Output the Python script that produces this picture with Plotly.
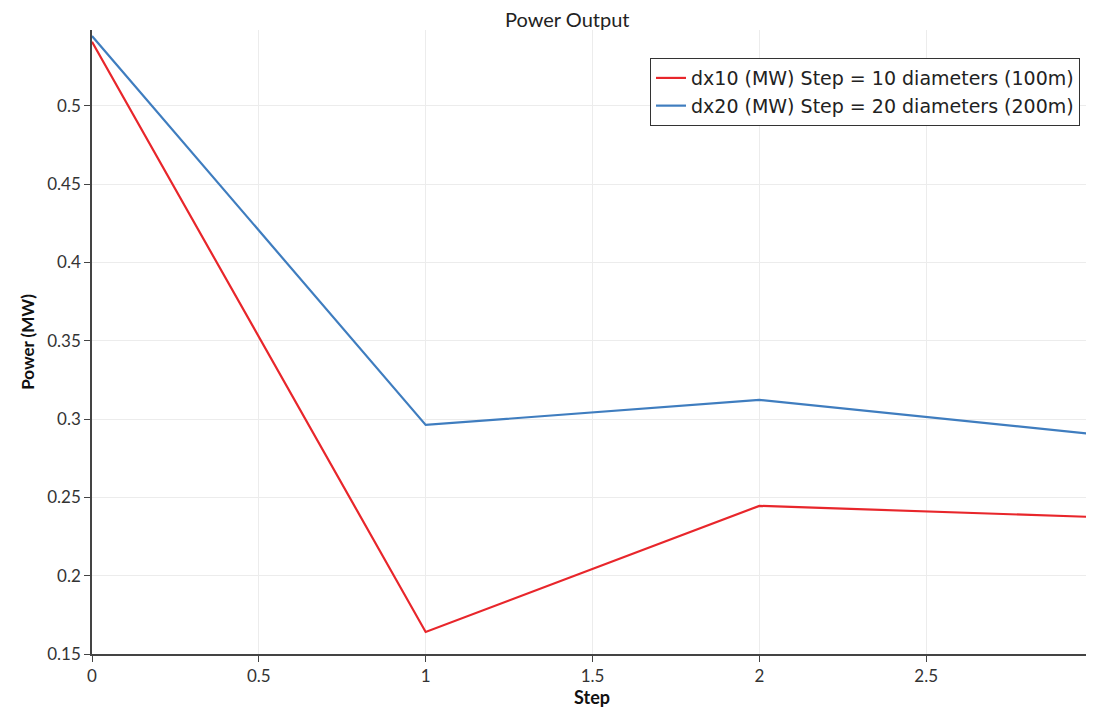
import plotly.graph_objects as go

steps = [0, 1, 2, 3]
dx10 = [0.541, 0.1641, 0.2446, 0.2375]
dx20 = [0.5447, 0.2963, 0.3123, 0.2905]
names = ["dx10 (MW) Step = 10 diameters (100m)", "dx20 (MW) Step = 20 diameters (200m)"]
colors = ["#e8262b", "#3f7dbf"]

fig = go.Figure()
fig.add_trace(go.Scatter(x=steps, y=dx10, mode="lines", name=names[0],
                         line=dict(color=colors[0], width=2.2)))
fig.add_trace(go.Scatter(x=steps, y=dx20, mode="lines", name=names[1],
                         line=dict(color=colors[1], width=2.2)))

font_family = "Lato, DejaVu Sans, sans-serif"
fig.update_layout(
    width=1086, height=703,
    margin=dict(l=84, r=2, t=22, b=57),
    paper_bgcolor="white", plot_bgcolor="white",
    title=dict(text="Power Output", x=0.515, xanchor="center", y=0.993, yanchor="top",
               font=dict(family=font_family, size=20, color="#222")),
    font=dict(family=font_family, size=17, color="#333"),
    showlegend=True,
    legend=dict(x=0.558, y=0.955, xanchor="left", yanchor="top",
                bordercolor="#333", borderwidth=1, bgcolor="white",
                font=dict(family="DejaVu Sans, sans-serif", size=19, color="#222"),
                tracegroupgap=0, itemwidth=30),
    xaxis=dict(range=[0, 2.997], tickvals=[0, 0.5, 1, 1.5, 2, 2.5],
               ticktext=["0", "0.5", "1", "1.5", "2", "2.5"],
               showgrid=True, gridcolor="#ececec", zeroline=False,
               showline=True, linecolor="#444", linewidth=1.5,
               ticks="outside", ticklen=6, tickcolor="#444",
               title=dict(text="<b>Step</b>", standoff=2,
                          font=dict(family=font_family, size=18, color="#111"))),
    yaxis=dict(range=[0.15, 0.5485], tickvals=[0.15, 0.2, 0.25, 0.3, 0.35, 0.4, 0.45, 0.5],
               ticktext=["0.15", "0.2", "0.25", "0.3", "0.35", "0.4", "0.45", "0.5"],
               showgrid=True, gridcolor="#ececec", zeroline=False,
               showline=True, linecolor="#444", linewidth=1.5,
               ticks="outside", ticklen=6, tickcolor="#444",
               title=dict(text="<b>Power (MW)</b>", standoff=8,
                          font=dict(family=font_family, size=17, color="#111"))),
)

fig.write_html("out.html")
